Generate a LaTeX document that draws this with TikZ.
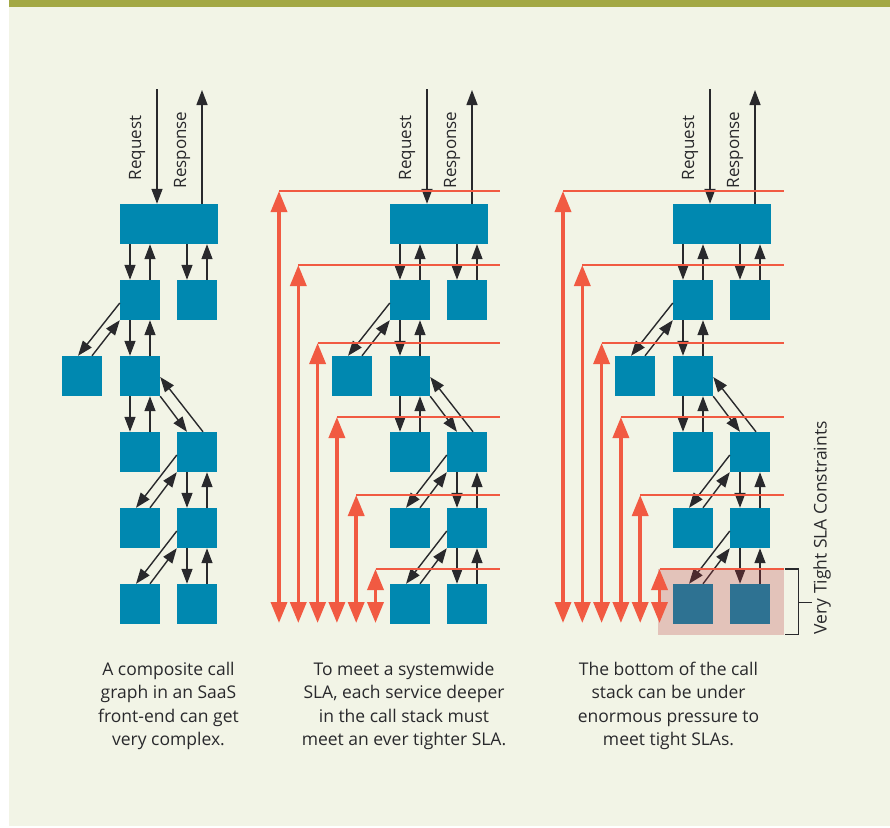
\documentclass[tikz,border=0pt]{standalone}
\usepackage{fontspec}
\setmainfont{Open Sans}
\usepackage{tikz}
\usetikzlibrary{arrows.meta, calc}

\definecolor{svcblue}{HTML}{0088B0}
\definecolor{slared}{HTML}{F15A42}
\definecolor{inkgray}{HTML}{29292C}
\definecolor{paper}{HTML}{F2F4E6}
\definecolor{barolive}{HTML}{A3A844}
\definecolor{tightpink}{RGB}{184,52,58}

\begin{document}
\begin{tikzpicture}[x=1pt, y=-1pt]
	\tikzstyle{svc}=[rectangle, fill=svcblue, minimum width=40pt,
		minimum height=40pt, inner sep=0pt]
	\tikzstyle{wide}=[minimum width=98pt]
	\tikzstyle{arr}=[->, >={Triangle[length=15pt, width=11pt]},
		line width=1.4pt, color=inkgray]
	\tikzstyle{slaline}=[draw=slared, line width=1.2pt]
	\tikzstyle{slaarr}=[<->, >={Triangle[length=21pt, width=16pt]},
		line width=3.5pt, color=slared]
	\tikzstyle{lbl}=[text=inkgray, font=\fontsize{17}{20}\selectfont,
		inner sep=0pt]
	\tikzstyle{blurb}=[text=inkgray, font=\fontsize{17.5}{23.5}\selectfont,
		align=center, inner sep=0pt]

	\useasboundingbox (0,0) rectangle (890,827);
	\fill[white] (0,0) rectangle (890,827);
	\fill[paper] (9,0) rectangle (890,826);
	\fill[barolive] (9,0) rectangle (890,7);

	% the same call graph three times
	\foreach \p/\dx in {1/0, 2/270, 3/553} {
		\node[svc, wide] (top\p) at (\dx+169,224) {};
		\node[svc] (m2\p) at (\dx+140,300) {};
		\node[svc] (r2\p) at (\dx+197,300) {};
		\node[svc] (l3\p) at (\dx+82,376) {};
		\node[svc] (m3\p) at (\dx+140,376) {};
		\node[svc] (m4\p) at (\dx+140,452) {};
		\node[svc] (r4\p) at (\dx+197,452) {};
		\node[svc] (m5\p) at (\dx+140,528) {};
		\node[svc] (r5\p) at (\dx+197,528) {};
		\node[svc] (m6\p) at (\dx+140,604) {};
		\node[svc] (r6\p) at (\dx+197,604) {};

		\coordinate (rq\p) at (\dx+157,89);
		\coordinate (rs\p) at (\dx+202,90);
		\draw[arr] (rq\p) -- (rq\p |- top\p.north);
		\draw[arr] (rs\p |- top\p.north) -- (rs\p);
		\node[lbl, rotate=90] (rqtxt\p) at (\dx+137,148) {Request};
		\node[lbl, rotate=90] (rstxt\p) at (\dx+182,150) {Response};

		% call down, answer up
		\foreach \a/\b in {top/m2, top/r2, m2/m3, m3/m4, r4/r5, r5/r6} {
			\draw[arr] ([xshift=-10]\b\p.north |- \a\p.south) --
				([xshift=-10]\b\p.north);
			\draw[arr] ([xshift=10]\b\p.north) --
				([xshift=10]\b\p.north |- \a\p.south);
		}
		\foreach \a/\b in {m2/l3, r4/m5, r5/m6} {
			\draw[arr] ([yshift=-3]\a\p.west) -- ([xshift=-4]\b\p.north);
			\draw[arr] ([xshift=10]\b\p.north) -- (\a\p.south west);
		}
		\draw[arr] (m3\p.south east) -- ([xshift=-10]r4\p.north);
		\draw[arr] ([xshift=6]r4\p.north) -- ([yshift=-1]m3\p.east);
	}

	\node[fill=tightpink, fill opacity=0.25, minimum width=126pt,
		minimum height=66pt, inner sep=0pt] (tight) at (721.3,602.3) {};

	% one SLA per level of the stack
	\foreach \q/\sx/\ex in {2/279/500, 3/563/784} {
		\foreach \y [count=\k] in {191,265,343,417,495,569} {
			\coordinate (sla\q\k) at (\sx+19.3*\k-19.3,\y);
			\coordinate (rim\q\k) at (\ex,\y);
			\coordinate (bot\q\k) at (\sx+19.3*\k-19.3,623);
			\draw[slaline] (sla\q\k) -- (rim\q\k);
			\draw[slaarr] (sla\q\k) -- (bot\q\k);
		}
	}

	\draw[inkgray, line width=1.3pt] (tight.north east) -- ++(14,0) --
		($(tight.south east)+(14,-1)$) -- ([yshift=1]tight.south east);
	\draw[inkgray, line width=1.3pt] ($(tight.east)+(14,0)$) -- ++(13,0);
	\node[lbl, rotate=90, anchor=west, font=\fontsize{17.5}{20}\selectfont]
		(slatxt) at (822,634.5) {Very Tight SLA Constraints};

	\node[blurb] (cap1) at (168.5,706) {A composite call\\graph in an SaaS\\
		front-end can get\\very complex.};
	\node[blurb] (cap2) at (404,706) {To meet a systemwide\\SLA, each service
		deeper\\in the call stack must\\meet an ever tighter SLA.};
	\node[blurb] (cap3) at (668.5,706) {The bottom of the call\\stack can be
		under\\enormous pressure to\\meet tight SLAs.};
\end{tikzpicture}
\end{document}
